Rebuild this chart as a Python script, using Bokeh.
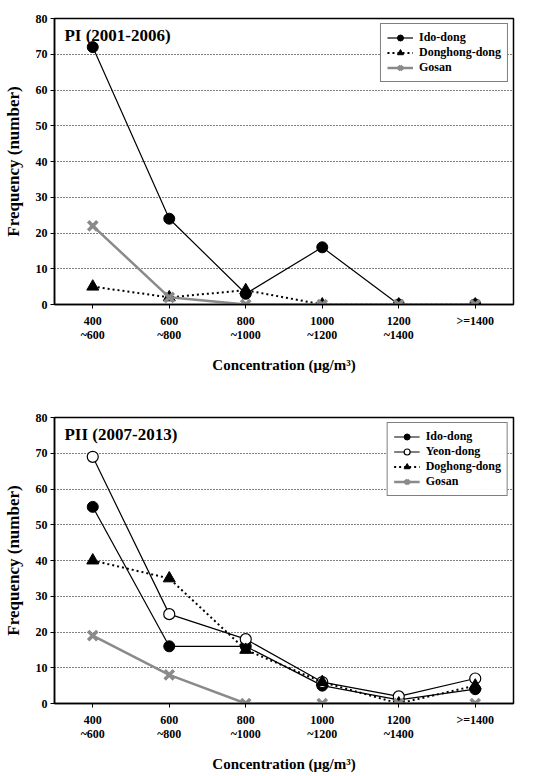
from bokeh.plotting import figure
from bokeh.layouts import column
from bokeh.models import FixedTicker, Label, Range1d
from bokeh.embed import file_html
from bokeh.resources import INLINE

# Concentration bins (µg/m³) and frequency ticks
bins = ["400\n~600", "600\n~800", "800\n~1000", "1000\n~1200", "1200\n~1400", ">=1400"]
freq_ticks = [0, 10, 20, 30, 40, 50, 60, 70, 80]

# Period I (2001-2006)
p1_ido = [72, 24, 3, 16, 0, 0]
p1_donghong = [5, 2, 4, 0, 0, 0]
p1_gosan = [22, 2, 0, 0, 0, 0]

# Period II (2007-2013)
p2_ido = [55, 16, 16, 5, 1, 4]
p2_yeon = [69, 25, 18, 6, 2, 7]
p2_doghong = [40, 35, 15, 6, 0, 5]
p2_gosan = [19, 8, 0, 0, 0, 0]

SERIF = "Liberation Serif"
GREY = "#8a8a8a"
xs = list(range(len(bins)))


def make_panel(title, series, border_top, border_bottom):
    p = figure(width=537, height=388, output_backend="svg", toolbar_location=None,
               x_range=Range1d(-0.5, len(bins) - 0.5), y_range=Range1d(0, 80),
               min_border_left=53, min_border_right=24,
               min_border_top=border_top, min_border_bottom=border_bottom)
    p.outline_line_color = "black"
    p.outline_line_width = 1.5
    p.xgrid.visible = False
    p.ygrid.ticker = FixedTicker(ticks=freq_ticks[1:-1])
    p.ygrid.grid_line_color = "black"
    p.ygrid.grid_line_dash = "1 2"
    p.ygrid.grid_line_width = 1

    p.yaxis.ticker = FixedTicker(ticks=freq_ticks)
    p.xaxis.ticker = FixedTicker(ticks=xs)
    p.xaxis.major_label_overrides = {i: b for i, b in enumerate(bins)}
    for ax in (p.xaxis[0], p.yaxis[0]):
        ax.axis_line_color = "black"
        ax.axis_line_width = 1.5
        ax.major_tick_in = 0
        ax.major_tick_out = 4
        ax.minor_tick_line_color = None
        ax.major_label_text_font = SERIF
        ax.major_label_text_font_style = "bold"
        ax.major_label_text_font_size = "12px"
        ax.major_label_text_color = "black"
        ax.major_label_text_line_height = 1.0
        ax.axis_label_text_font = SERIF
        ax.axis_label_text_font_style = "bold"
        ax.axis_label_text_color = "black"
    p.xaxis.major_label_standoff = 5
    p.yaxis.major_label_standoff = 3
    p.yaxis.axis_label = "Frequency (number)"
    p.yaxis.axis_label_text_font_size = "17px"
    p.yaxis.axis_label_standoff = 10
    p.xaxis.axis_label = "Concentration (\u03bcg/m\u00b3)"
    p.xaxis.axis_label_text_font_size = "15px"
    p.xaxis.axis_label_standoff = 12

    for name, vals, kind in series:
        if kind == "gosan":
            p.line(xs, vals, line_color=GREY, line_width=2.5, legend_label=name)
            p.scatter(xs, vals, marker="x", size=13, line_color=GREY, line_width=3.5,
                      legend_label=name)
        elif kind == "tri":
            p.line(xs, vals, line_color="black", line_width=2, line_dash="2 3",
                   legend_label=name)
            p.scatter(xs, vals, marker="triangle", size=12, fill_color="black",
                      line_color="black", legend_label=name)
        elif kind == "open":
            p.line(xs, vals, line_color="black", line_width=1.2, legend_label=name)
            p.scatter(xs, vals, marker="circle", size=11, fill_color="white",
                      line_color="black", line_width=1.2, legend_label=name)
        else:
            p.line(xs, vals, line_color="black", line_width=1.2, legend_label=name)
            p.scatter(xs, vals, marker="circle", size=11, fill_color="black",
                      line_color="black", legend_label=name)

    lg = p.legend[0]
    lg.location = "top_right"
    lg.margin = 5
    lg.padding = 6
    lg.spacing = 0
    lg.glyph_width = 26
    lg.glyph_height = 15
    lg.label_height = 15
    lg.label_standoff = 6
    lg.label_text_font = SERIF
    lg.label_text_font_style = "bold"
    lg.label_text_font_size = "12px"
    lg.label_text_color = "black"
    lg.border_line_color = "black"
    lg.border_line_width = 1

    p.add_layout(Label(x=-0.37, y=77.8, text=title, text_font=SERIF,
                       text_font_style="bold", text_font_size="17px",
                       text_color="black",
                       text_baseline="top", text_align="left"))
    return p


p1 = make_panel("PI (2001-2006)", [
    ("Ido-dong", p1_ido, "filled"),
    ("Donghong-dong", p1_donghong, "tri"),
    ("Gosan", p1_gosan, "gosan"),
], 18, 84)

p2 = make_panel("PII (2007-2013)", [
    ("Ido-dong", p2_ido, "filled"),
    ("Yeon-dong", p2_yeon, "open"),
    ("Doghong-dong", p2_doghong, "tri"),
    ("Gosan", p2_gosan, "gosan"),
], 29, 73)

layout = column(p1, p2, spacing=0)
open("out.html", "w").write(file_html(layout, INLINE))
